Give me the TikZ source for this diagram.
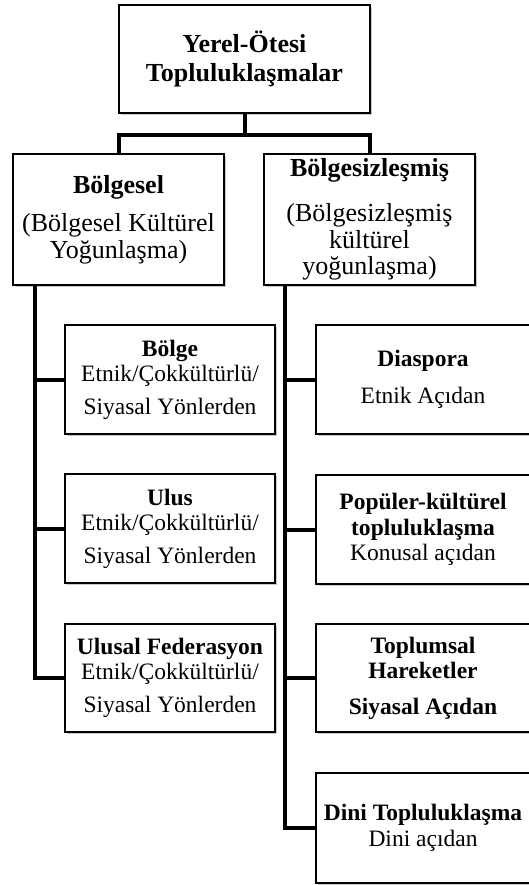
\documentclass[tikz,border=0pt]{standalone}
\usepackage{fontspec}
\setmainfont{Liberation Serif}
\usetikzlibrary{shadows}
\tikzset{
  box/.style={draw=black, line width=1.4pt, fill=white, align=center, inner sep=0pt, outer sep=0pt,
    drop shadow={shadow xshift=1.5pt, shadow yshift=-1.8pt, fill=black!35, opacity=0.6}},
  topbox/.style={box, minimum width=251pt, minimum height=108pt, font=\fontsize{26}{29.5}\selectfont\bfseries},
  midbox/.style={box, minimum width=211pt, minimum height=131pt, font=\fontsize{26}{26.5}\selectfont},
  lbox/.style={box, minimum width=210pt, minimum height=109pt, font=\fontsize{23.5}{25}\selectfont},
  rbox/.style={box, minimum width=214pt, minimum height=109pt, font=\fontsize{23.5}{25.5}\selectfont},
  conn/.style={draw=black, line width=4pt}
}
\begin{document}
\begin{tikzpicture}[x=1pt,y=-1pt]
\useasboundingbox (0,0) rectangle (529,885);
\node[topbox] (top) at (244.5,59) {Yerel-Ötesi\\Topluluklaşmalar};
\node[midbox] (bolg) at (118.5,219.5) {\textbf{Bölgesel}\\[12pt](Bölgesel Kültürel\\Yoğunlaşma)};
\node[midbox] (bsiz) at (369.5,219.5) {\textbf{Bölgesizleşmiş}\\[19pt](Bölgesizleşmiş\\kültürel\\yoğunlaşma)};
\node[lbox] (l1) at (170,379.5) {\textbf{Bölge}\\Etnik/Çokkültürlü/\\[8pt]Siyasal Yönlerden};
\node[lbox] (l2) at (170,528.5) {\textbf{Ulus}\\Etnik/Çokkültürlü/\\[8pt]Siyasal Yönlerden};
\node[lbox, minimum height=108pt] (l3) at (170,678) {\textbf{Ulusal Federasyon}\\Etnik/Çokkültürlü/\\[8pt]Siyasal Yönlerden};
\node[rbox] (r1) at (423,379.5) {\textbf{Diaspora}\\[11pt]Etnik Açıdan};
\node[rbox] (r2) at (423,529.5) {\textbf{Popüler-kültürel}\\\textbf{topluluklaşma}\\Konusal açıdan};
\node[rbox, minimum height=108pt] (r3) at (423,678) {\textbf{Toplumsal}\\\textbf{Hareketler}\\[10pt]\textbf{Siyasal Açıdan}};
\node[rbox, minimum height=110pt] (r4) at (423,828) {\textbf{Dini Topluluklaşma}\\Dini açıdan};
% connectors
\draw[conn] (top.south) -- ++(0,22) coordinate (j);
\draw[conn] (bolg.north) |- (j) -| (bsiz.north);
\coordinate (lt) at ([xshift=22pt]bolg.south west);
\coordinate (rt) at ([xshift=21pt]bsiz.south west);
\draw[conn] (lt) |- (l3.west);
\draw[conn] (l1.west -| lt) -- (l1.west);
\draw[conn] (l2.west -| lt) -- (l2.west);
\draw[conn] (rt) |- (r4.west);
\draw[conn] (r1.west -| rt) -- (r1.west);
\draw[conn] (r2.west -| rt) -- (r2.west);
\draw[conn] (r3.west -| rt) -- (r3.west);
\end{tikzpicture}
\end{document}
